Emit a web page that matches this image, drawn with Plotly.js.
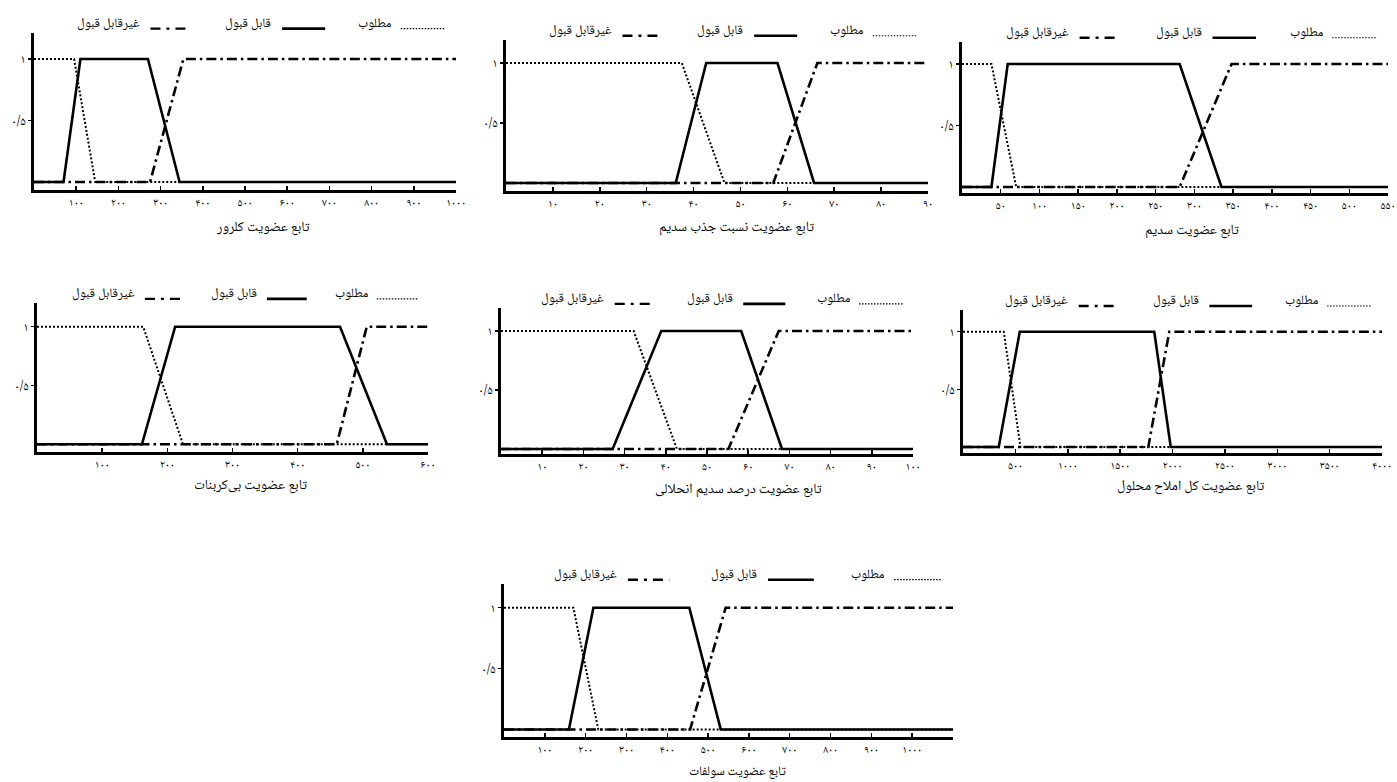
<!DOCTYPE html>
<html>
<head>
<meta charset="utf-8">
<script src="https://cdn.plot.ly/plotly-3.0.1.min.js"></script>
<style>
html,body{margin:0;padding:0;background:#ffffff;}
#chart{width:1397px;height:782px;}
</style>
</head>
<body>
<div id="chart"></div>
<script>
// ---------- DATA ----------
// membership levels of the three fuzzy sets (shared shapes)
const desirableY = [1, 1, 0, 0];
const acceptableY = [0, 0, 1, 1, 0, 0];
const unacceptableY = [0, 0, 1, 1];

const seriesNames = ['مطلوب', 'قابل قبول', 'غیرقابل قبول'];
const yTickVals = [0.5, 1];
const yTickText = ['۰/۵', '۱'];

// Chloride
const chlorideTitle = 'تابع عضویت کلرور';
const chlorideDesirableX = [0, 95, 145, 1000];
const chlorideAcceptableX = [0, 70, 110, 270, 345, 1000];
const chlorideUnacceptableX = [0, 275, 354, 1000];
const chlorideTickVals = [100, 200, 300, 400, 500, 600, 700, 800, 900, 1000];
const chlorideTickText = ['۱۰۰', '۲۰۰', '۳۰۰', '۴۰۰', '۵۰۰', '۶۰۰', '۷۰۰', '۸۰۰', '۹۰۰', '۱۰۰۰'];

// Sodium adsorption ratio
const sarTitle = 'تابع عضویت نسبت جذب سدیم';
const sarDesirableX = [0, 37.5, 46.6, 90];
const sarAcceptableX = [0, 36.2, 42.7, 57.9, 65.7, 90];
const sarUnacceptableX = [0, 57, 66.4, 90];
const sarTickVals = [10, 20, 30, 40, 50, 60, 70, 80, 90];
const sarTickText = ['۱۰', '۲۰', '۳۰', '۴۰', '۵۰', '۶۰', '۷۰', '۸۰', '۹۰'];

// Sodium
const sodiumTitle = 'تابع عضویت سدیم';
const sodiumDesirableX = [0, 38, 70, 550];
const sodiumAcceptableX = [0, 38, 59, 281, 335, 550];
const sodiumUnacceptableX = [0, 281, 348, 550];
const sodiumTickVals = [50, 100, 150, 200, 250, 300, 350, 400, 450, 500, 550];
const sodiumTickText = ['۵۰', '۱۰۰', '۱۵۰', '۲۰۰', '۲۵۰', '۳۰۰', '۳۵۰', '۴۰۰', '۴۵۰', '۵۰۰', '۵۵۰'];

// Bicarbonate
const bicarbTitle = 'تابع عضویت بی‌کربنات';
const bicarbDesirableX = [0, 163, 224, 600];
const bicarbAcceptableX = [0, 161, 212, 465, 537, 600];
const bicarbUnacceptableX = [0, 460, 506, 600];
const bicarbTickVals = [100, 200, 300, 400, 500, 600];
const bicarbTickText = ['۱۰۰', '۲۰۰', '۳۰۰', '۴۰۰', '۵۰۰', '۶۰۰'];

// Soluble sodium percentage
const sspTitle = 'تابع عضویت درصد سدیم انحلالی';
const sspDesirableX = [0, 32.2, 42.7, 100];
const sspAcceptableX = [0, 27.1, 38.9, 58.3, 68.2, 100];
const sspUnacceptableX = [0, 55.2, 67.4, 100];
const sspTickVals = [10, 20, 30, 40, 50, 60, 70, 80, 90, 100];
const sspTickText = ['۱۰', '۲۰', '۳۰', '۴۰', '۵۰', '۶۰', '۷۰', '۸۰', '۹۰', '۱۰۰'];

// Total dissolved solids
const tdsTitle = 'تابع عضویت کل املاح محلول';
const tdsDesirableX = [0, 389, 549, 4000];
const tdsAcceptableX = [0, 341, 542, 1826, 1983, 4000];
const tdsUnacceptableX = [0, 1769, 1969, 4000];
const tdsTickVals = [500, 1000, 1500, 2000, 2500, 3000, 3500, 4000];
const tdsTickText = ['۵۰۰', '۱۰۰۰', '۱۵۰۰', '۲۰۰۰', '۲۵۰۰', '۳۰۰۰', '۳۵۰۰', '۴۰۰۰'];

// Sulfate
const sulfateTitle = 'تابع عضویت سولفات';
const sulfateDesirableX = [0, 170, 231, 1100];
const sulfateAcceptableX = [0, 159, 219, 454, 531, 1100];
const sulfateUnacceptableX = [0, 456, 543, 1100];
const sulfateTickVals = [100, 200, 300, 400, 500, 600, 700, 800, 900, 1000];
const sulfateTickText = ['۱۰۰', '۲۰۰', '۳۰۰', '۴۰۰', '۵۰۰', '۶۰۰', '۷۰۰', '۸۰۰', '۹۰۰', '۱۰۰۰'];

// ---------- LAYOUT CONFIG (pixel boxes: left, top, right, bottom) ----------
const W = 1397, H = 782;
const FONT = 'Noto Naskh Arabic, Noto Sans Arabic, DejaVu Sans, sans-serif';

const panels = [
  {title: chlorideTitle, d: chlorideDesirableX, a: chlorideAcceptableX, u: chlorideUnacceptableX,
   tv: chlorideTickVals, tt: chlorideTickText, xr: [0, 1000], yr: [-0.065, 1.211], box: [34, 33, 456, 190], tx: 0.543, ty: -0.245, ts: 14},
  {title: sarTitle, d: sarDesirableX, a: sarAcceptableX, u: sarUnacceptableX,
   tv: sarTickVals, tt: sarTickText, xr: [0, 90], yr: [-0.067, 1.192], box: [506, 40, 928, 191], tx: 0.547, ty: -0.245, ts: 14},
  {title: sodiumTitle, d: sodiumDesirableX, a: sodiumAcceptableX, u: sodiumUnacceptableX,
   tv: sodiumTickVals, tt: sodiumTickText, xr: [0, 550], yr: [-0.049, 1.179], box: [962, 42, 1388, 193], tx: 0.54, ty: -0.252, ts: 14},
  {title: bicarbTitle, d: bicarbDesirableX, a: bicarbAcceptableX, u: bicarbUnacceptableX,
   tv: bicarbTickVals, tt: bicarbTickText, xr: [0, 600], yr: [-0.066, 1.202], box: [37, 303, 428, 452], tx: 0.545, ty: -0.228, ts: 14},
  {title: sspTitle, d: sspDesirableX, a: sspAcceptableX, u: sspUnacceptableX,
   tv: sspTickVals, tt: sspTickText, xr: [0, 100], yr: [-0.042, 1.195], box: [501, 308, 913, 454], tx: 0.576, ty: -0.248, ts: 14},
  {title: tdsTitle, d: tdsDesirableX, a: tdsAcceptableX, u: tdsUnacceptableX,
   tv: tdsTickVals, tt: tdsTickText, xr: [0, 4000], yr: [-0.052, 1.189], box: [963, 310, 1382, 453], tx: 0.544, ty: -0.24, ts: 14},
  {title: sulfateTitle, d: sulfateDesirableX, a: sulfateAcceptableX, u: sulfateUnacceptableX,
   tv: sulfateTickVals, tt: sulfateTickText, xr: [0, 1100], yr: [-0.062, 1.195], box: [504, 584, 953, 737], tx: 0.52, ty: -0.232, ts: 13}
];

const styleDesirable = {color: '#000', width: 2, dash: '2px,2px'};
const styleAcceptable = {color: '#000', width: 2.6};
const styleUnacceptable = {color: '#000', width: 2.6, dash: '10px,4px,2.5px,4px'};

const traces = [];
const layout = {
  width: W, height: H, autosize: false,
  margin: {l: 0, r: 0, t: 0, b: 0, pad: 0},
  paper_bgcolor: '#ffffff', plot_bgcolor: '#ffffff',
  showlegend: false,
  font: {family: FONT, color: '#000', size: 12},
  annotations: [], shapes: []
};

panels.forEach((p, i) => {
  const n = i === 0 ? '' : String(i + 1);
  const xa = 'x' + n, ya = 'y' + n;
  const [L, T, R, B] = p.box;

  traces.push({type: 'scatter', mode: 'lines', x: p.u, y: unacceptableY, xaxis: xa, yaxis: ya,
    name: seriesNames[2], line: styleUnacceptable, hoverinfo: 'skip'});
  traces.push({type: 'scatter', mode: 'lines', x: p.d, y: desirableY, xaxis: xa, yaxis: ya,
    name: seriesNames[0], line: styleDesirable, hoverinfo: 'skip'});
  traces.push({type: 'scatter', mode: 'lines', x: p.a, y: acceptableY, xaxis: xa, yaxis: ya,
    name: seriesNames[1], line: styleAcceptable, hoverinfo: 'skip'});

  layout['xaxis' + n] = {
    domain: [L / W, R / W], anchor: ya, range: p.xr, fixedrange: true,
    showgrid: false, zeroline: false, showline: true, linecolor: '#000', linewidth: 3,
    ticks: 'inside', ticklen: 4, tickwidth: 1.5, tickcolor: '#000',
    tickmode: 'array', tickvals: p.tv, ticktext: p.tt,
    tickfont: {family: FONT, size: 11, color: '#000'}
  };
  layout['yaxis' + n] = {
    domain: [1 - B / H, 1 - T / H], anchor: xa, range: p.yr, fixedrange: true,
    showgrid: false, zeroline: false, showline: true, linecolor: '#000', linewidth: 3,
    ticks: 'outside', ticklen: 3, tickwidth: 1.2, tickcolor: '#000',
    tickmode: 'array', tickvals: yTickVals, ticktext: yTickText,
    tickfont: {family: FONT, size: 12, color: '#000'}
  };

  const xd = xa + ' domain', yd = ya + ' domain';
  // title under the axis
  layout.annotations.push({xref: xd, yref: yd, x: p.tx, y: p.ty, xanchor: 'center', yanchor: 'middle',
    text: p.title, showarrow: false, font: {family: FONT, size: p.ts, color: '#000'}});
  // custom legend: label on the left, line sample on the right
  const legendTextX = [0.851, 0.567, 0.256];
  const legendSample = [[0.869, 0.975], [0.588, 0.69], [0.276, 0.368]];
  const legendStyle = [
    {color: '#000', width: 1.2, dash: '1.5px,1.5px'},
    {color: '#000', width: 2.6},
    {color: '#000', width: 2.4, dash: '10px,6px,3px,6px'}
  ];
  for (let k = 0; k < 3; k++) {
    layout.annotations.push({xref: xd, yref: yd, x: legendTextX[k], y: 1.06, xanchor: 'right', yanchor: 'middle',
      text: seriesNames[k], showarrow: false, font: {family: FONT, size: 13, color: '#000'}});
    layout.shapes.push({type: 'line', xref: xd, yref: yd, x0: legendSample[k][0], x1: legendSample[k][1],
      y0: 1.028, y1: 1.028, line: legendStyle[k]});
  }
});

Plotly.newPlot('chart', traces, layout, {displayModeBar: false, staticPlot: true});
</script>
</body>
</html>
